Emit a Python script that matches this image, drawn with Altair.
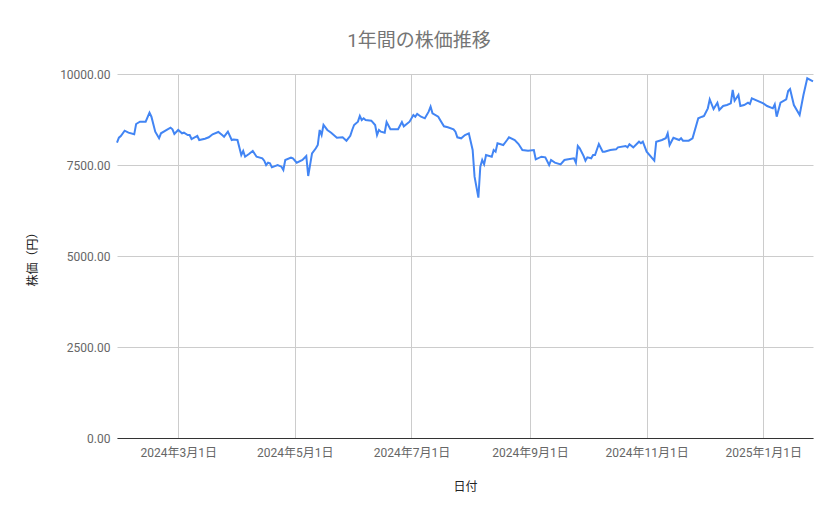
import altair as alt
import pandas as pd

dates = [
    "2024-01-29", "2024-01-30", "2024-01-31", "2024-02-02", "2024-02-04", "2024-02-07", "2024-02-08",
    "2024-02-10", "2024-02-13", "2024-02-15", "2024-02-16", "2024-02-18", "2024-02-20", "2024-02-21",
    "2024-02-24", "2024-02-26", "2024-02-27", "2024-02-28", "2024-03-01", "2024-03-03", "2024-03-04",
    "2024-03-06", "2024-03-07", "2024-03-08", "2024-03-11", "2024-03-12", "2024-03-15", "2024-03-17",
    "2024-03-19", "2024-03-22", "2024-03-24", "2024-03-25", "2024-03-27", "2024-03-29", "2024-03-30",
    "2024-04-01", "2024-04-03", "2024-04-04", "2024-04-05", "2024-04-07", "2024-04-09", "2024-04-11",
    "2024-04-14", "2024-04-15", "2024-04-16", "2024-04-17", "2024-04-18", "2024-04-19", "2024-04-22",
    "2024-04-24", "2024-04-25", "2024-04-26", "2024-04-29", "2024-04-30", "2024-05-02", "2024-05-05",
    "2024-05-07", "2024-05-08", "2024-05-10", "2024-05-12", "2024-05-13", "2024-05-14", "2024-05-15",
    "2024-05-16", "2024-05-18", "2024-05-20", "2024-05-23", "2024-05-26", "2024-05-28", "2024-05-30",
    "2024-05-31", "2024-06-01", "2024-06-03", "2024-06-04", "2024-06-05", "2024-06-06", "2024-06-07",
    "2024-06-10", "2024-06-12", "2024-06-13", "2024-06-14", "2024-06-15", "2024-06-17", "2024-06-18",
    "2024-06-20", "2024-06-24", "2024-06-26", "2024-06-27", "2024-06-30", "2024-07-02", "2024-07-03",
    "2024-07-04", "2024-07-06", "2024-07-08", "2024-07-10", "2024-07-11", "2024-07-12", "2024-07-15",
    "2024-07-16", "2024-07-18", "2024-07-20", "2024-07-23", "2024-07-24", "2024-07-25", "2024-07-27",
    "2024-07-29", "2024-07-31", "2024-08-02", "2024-08-03", "2024-08-05", "2024-08-06", "2024-08-07",
    "2024-08-08", "2024-08-09", "2024-08-12", "2024-08-13", "2024-08-14", "2024-08-15", "2024-08-18",
    "2024-08-20", "2024-08-21", "2024-08-24", "2024-08-26", "2024-08-28", "2024-08-31", "2024-09-03",
    "2024-09-04", "2024-09-07", "2024-09-09", "2024-09-11", "2024-09-12", "2024-09-14", "2024-09-17",
    "2024-09-19", "2024-09-21", "2024-09-24", "2024-09-25", "2024-09-26", "2024-09-27", "2024-09-29",
    "2024-09-30", "2024-10-01", "2024-10-03", "2024-10-04", "2024-10-05", "2024-10-07", "2024-10-09",
    "2024-10-10", "2024-10-13", "2024-10-16", "2024-10-17", "2024-10-21", "2024-10-22", "2024-10-23",
    "2024-10-25", "2024-10-28", "2024-10-29", "2024-10-30", "2024-11-01", "2024-11-05", "2024-11-06",
    "2024-11-09", "2024-11-11", "2024-11-12", "2024-11-13", "2024-11-15", "2024-11-18", "2024-11-19",
    "2024-11-20", "2024-11-23", "2024-11-25", "2024-11-28", "2024-11-30", "2024-12-01", "2024-12-03",
    "2024-12-04", "2024-12-06", "2024-12-08", "2024-12-09", "2024-12-11", "2024-12-13", "2024-12-15",
    "2024-12-16", "2024-12-17", "2024-12-19", "2024-12-20", "2024-12-22", "2024-12-24", "2024-12-25",
    "2024-12-26", "2025-01-01", "2025-01-03", "2025-01-06", "2025-01-07", "2025-01-08", "2025-01-10",
    "2025-01-13", "2025-01-14", "2025-01-15", "2025-01-17", "2025-01-20", "2025-01-21", "2025-01-22",
    "2025-01-24", "2025-01-27",
]

prices = [
    8113, 8250, 8297, 8442, 8388, 8343, 8626,
    8690, 8690, 8937, 8827, 8415, 8234, 8371,
    8462, 8525, 8481, 8352, 8462, 8371, 8388,
    8324, 8324, 8214, 8297, 8187, 8223, 8261,
    8343, 8407, 8324, 8278, 8415, 8187, 8200,
    8187, 7775, 7885, 7728, 7802, 7885, 7728,
    7684, 7619, 7500, 7564, 7546, 7436, 7500,
    7454, 7363, 7637, 7701, 7684, 7564, 7637,
    7747, 7198, 7821, 7959, 8049, 8462, 8324,
    8599, 8462, 8388, 8250, 8261, 8168, 8300,
    8462, 8599, 8690, 8846, 8736, 8782, 8736,
    8717, 8599, 8324, 8462, 8415, 8388, 8681,
    8481, 8481, 8681, 8562, 8690, 8874, 8827,
    8901, 8827, 8782, 8965, 9103, 8919, 8827,
    8736, 8562, 8535, 8481, 8415, 8261, 8234,
    8324, 8371, 7912, 7179, 6603, 7454, 7637,
    7518, 7775, 7728, 7912, 7866, 8096, 8049,
    8187, 8261, 8187, 8077, 7912, 7893, 7912,
    7656, 7728, 7710, 7500, 7637, 7564, 7518,
    7637, 7656, 7684, 7564, 8022, 7959, 7750,
    7619, 7710, 7684, 7775, 7775, 8077, 7866,
    7866, 7912, 7930, 7985, 8022, 7985, 8068,
    7985, 8141, 8096, 8141, 7866, 7619, 8141,
    8187, 8234, 8371, 8049, 8250, 8187, 8234,
    8168, 8168, 8234, 8782, 8827, 8846, 9057,
    9303, 9038, 9212, 9011, 9121, 9148, 9194,
    9560, 9266, 9423, 9121, 9148, 9212, 9176,
    9331, 9194, 9121, 9057, 9167, 8827, 9212,
    9303, 9533, 9588, 9148, 8874, 9148, 9423,
    9881, 9799,
]

tick_dates = [(2024, 3), (2024, 5), (2024, 7), (2024, 9), (2024, 11), (2025, 1)]
y_ticks = [0, 2500, 5000, 7500, 10000]

df = pd.DataFrame({"date": [d + "T00:00:00" for d in dates], "price": prices})

FONT = "Roboto, 'Noto Sans CJK JP', sans-serif"

chart = (
    alt.Chart(df)
    .mark_line(color="#4285F4", strokeWidth=2)
    .encode(
        x=alt.X(
            "date:T",
            title="日付",
            scale=alt.Scale(nice=False),
            axis=alt.Axis(
                values=[alt.DateTime(year=y, month=m, date=1) for y, m in tick_dates],
                format="%Y年%-m月%-d日",
                grid=True,
                gridColor="#cccccc",
                ticks=False,
                domain=True,
                domainColor="#333333",
                labelColor="#666666",
                labelFontSize=12,
                labelFont=FONT,
                labelPadding=9,
                titleFont=FONT,
                titleFontSize=12,
                titleColor="#222222",
                titleFontWeight="normal",
                titlePadding=23,
            ),
        ),
        y=alt.Y(
            "price:Q",
            title="株価（円）",
            scale=alt.Scale(domain=[0, 10000], nice=False),
            axis=alt.Axis(
                values=y_ticks,
                format=".2f",
                grid=True,
                gridColor="#cccccc",
                ticks=False,
                domain=False,
                labelColor="#666666",
                labelFontSize=12,
                labelFont=FONT,
                labelPadding=7,
                titleFont=FONT,
                titleFontSize=12,
                titleColor="#222222",
                titleFontWeight="normal",
                titlePadding=20,
            ),
        ),
    )
    .properties(
        width=696,
        height=364,
        autosize="none",
        padding={"left": 109, "top": 66, "right": 18, "bottom": 73},
        title=alt.TitleParams(
            "1年間の株価推移",
            font=FONT,
            fontSize=19,
            fontWeight="normal",
            color="#757575",
            anchor="middle",
            dx=-46,
            offset=17,
        ),
    )
    .configure_view(stroke=None)
)

chart.save("out.html", embed_options={"renderer": "svg", "actions": False})
